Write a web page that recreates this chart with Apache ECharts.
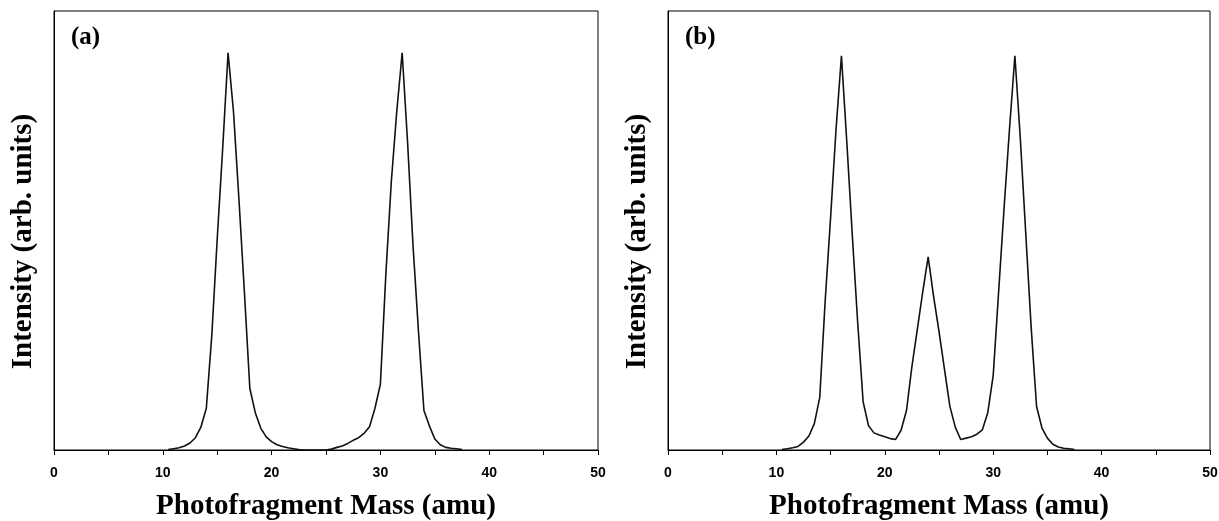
<!DOCTYPE html>
<html>
<head>
<meta charset="utf-8">
<script src="https://cdn.jsdelivr.net/npm/echarts@6/dist/echarts.min.js"></script>
<style>
html,body{margin:0;padding:0;background:#fff;}
#chart{width:1219px;height:521px;}
</style>
</head>
<body>
<div id="chart"></div>
<script>
// Panel (a): photofragment mass (amu) and intensity (arb. units)
var massA = [10.5, 11, 11.5, 12, 12.5, 13, 13.5, 14, 14.5, 15, 15.5, 16, 16.5, 17, 17.5, 18, 18.5, 19, 19.5, 20, 20.5, 21, 21.5, 22, 22.5,
             23, 24, 25,
             25.5, 26, 26.5, 27, 27.5, 28, 28.5, 29, 29.5, 30, 30.5, 31, 31.5, 32, 32.5, 33, 33.5, 34, 34.5, 35, 35.5, 36, 36.5, 37, 37.5];
var intensityA = [0.1, 0.3, 0.5, 0.9, 1.6, 2.8, 5.2, 9.5, 26, 48, 68.5, 90.5, 77, 57, 36, 14, 8.5, 5, 3, 1.9, 1.2, 0.8, 0.5, 0.3, 0.1,
                  0, 0, 0,
                  0.2, 0.6, 0.9, 1.5, 2.2, 2.8, 3.8, 5.3, 9.5, 15, 40, 61, 77, 90.5, 70, 46.5, 27, 9, 5.5, 2.5, 1.2, 0.6, 0.4, 0.3, 0.1];

// Panel (b)
var massB = [10.5, 11, 11.5, 12, 12.5, 13, 13.5, 14, 14.5, 15,
             15.5, 16, 16.5, 17, 17.5, 18, 18.5, 19, 19.5, 20,
             20.5, 21, 21.5, 22, 22.5, 23, 23.5, 24, 24.5, 25,
             25.5, 26, 26.5, 27, 27.5, 28, 28.5, 29, 29.5, 30,
             30.5, 31, 31.5, 32, 32.5, 33, 33.5, 34, 34.5, 35,
             35.5, 36, 36.5, 37, 37.5];
var intensityB = [0.1, 0.3, 0.5, 0.8, 1.8, 3.2, 6, 12, 34, 53,
                  73, 89.8, 70, 49, 29, 11, 5.5, 3.9, 3.4, 3.0,
                  2.6, 2.4, 4.5, 9, 19, 27.5, 36, 44, 35, 27,
                  18.5, 10, 5.2, 2.4, 2.7, 3.0, 3.6, 4.6, 8.5, 17,
                  36, 55, 73, 89.8, 71, 49.5, 28, 9.9, 5, 2.7,
                  1.3, 0.7, 0.4, 0.3, 0.1];

var panelLabels = ['(a)', '(b)'];
var xTitle = 'Photofragment Mass (amu)';
var yTitle = 'Intensity (arb. units)';
var xMin = 0, xMax = 50, xStep = 5, xLabelStep = 10;
var yMin = 0, yMax = 100;

function pairs(xs, ys) { return xs.map(function (x, i) { return [x, ys[i]]; }); }

var serif = "'Liberation Serif', 'Times New Roman', serif";
var sans = "'Liberation Sans', Arial, sans-serif";

function makeX(idx) {
  return {
    gridIndex: idx, type: 'value', min: xMin, max: xMax, interval: xStep,
    axisLine: { onZero: false, lineStyle: { color: '#000', width: 1 } },
    axisTick: { length: 5, lineStyle: { color: '#000', width: 1 } },
    axisLabel: {
      margin: 16, color: '#000', fontSize: 14, fontWeight: 'bold', fontFamily: sans,
      formatter: function (v) { return v % xLabelStep === 0 ? String(v) : ''; }
    },
    splitLine: { show: false },
    name: xTitle, nameLocation: 'middle', nameGap: 42,
    nameTextStyle: { color: '#000', fontSize: 29, fontWeight: 'bold', fontFamily: serif }
  };
}
function makeY(idx) {
  return {
    gridIndex: idx, type: 'value', min: yMin, max: yMax,
    axisLine: { show: true, lineStyle: { color: '#000', width: 1 } },
    axisTick: { show: false }, axisLabel: { show: false }, splitLine: { show: false },
    name: yTitle, nameLocation: 'middle', nameGap: 16,
    nameTextStyle: { color: '#000', fontSize: 29, fontWeight: 'bold', fontFamily: serif, padding: [0, 22, 0, 0] }
  };
}
function makeSeries(idx, xs, ys) {
  return {
    type: 'line', xAxisIndex: idx, yAxisIndex: idx, data: pairs(xs, ys),
    showSymbol: false, symbol: 'none', smooth: false, animation: false,
    lineStyle: { color: '#111', width: 1.6 }
  };
}

var chart = echarts.init(document.getElementById('chart'), null, { renderer: 'canvas' });
chart.setOption({
  backgroundColor: '#fff',
  animation: false,
  title: [
    { text: panelLabels[0], left: 66, top: 20, textStyle: { color: '#000', fontSize: 25, fontWeight: 'bold', fontFamily: serif } },
    { text: panelLabels[1], left: 680, top: 20, textStyle: { color: '#000', fontSize: 25, fontWeight: 'bold', fontFamily: serif } }
  ],
  grid: [
    { left: 54, right: 621, top: 11, bottom: 71, containLabel: false, outerBoundsMode: 'none', show: true, borderColor: '#000', borderWidth: 1, backgroundColor: 'transparent' },
    { left: 668, right: 9, top: 11, bottom: 71, containLabel: false, outerBoundsMode: 'none', show: true, borderColor: '#000', borderWidth: 1, backgroundColor: 'transparent' }
  ],
  xAxis: [makeX(0), makeX(1)],
  yAxis: [makeY(0), makeY(1)],
  series: [makeSeries(0, massA, intensityA), makeSeries(1, massB, intensityB)]
});
</script>
</body>
</html>
